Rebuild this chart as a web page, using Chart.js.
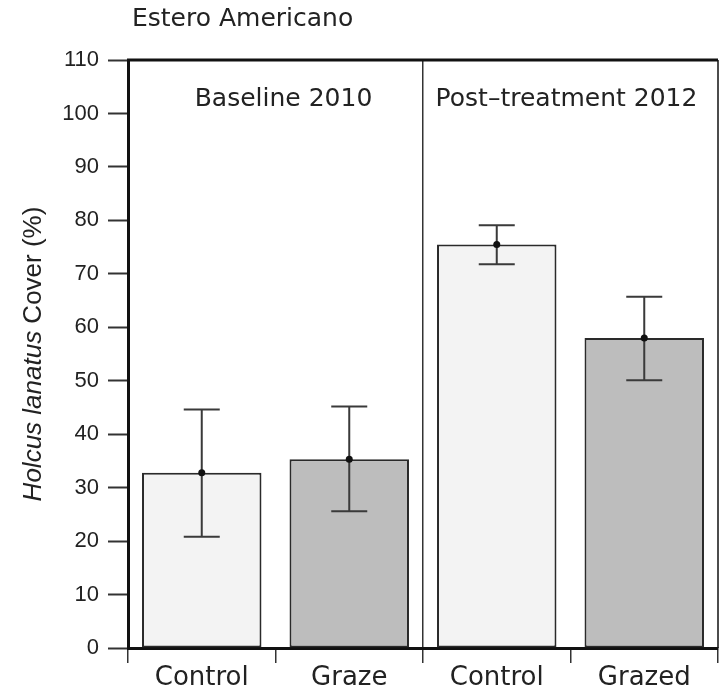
<!DOCTYPE html>
<html>
<head>
<meta charset="utf-8">
<script src="https://cdn.jsdelivr.net/npm/chart.js@4"></script>
<style>
  html, body { margin: 0; padding: 0; background: #fff; }
  #wrap { width: 720px; height: 692px; position: relative; }
</style>
</head>
<body>
<div id="wrap"><canvas id="grafica"></canvas></div>
<script>
// Datos
const CATEGORIAS = ['Control', 'Graze', 'Control', 'Grazed'];
const MEDIAS     = [32.8, 35.3, 75.5, 58.0];
const ERR_ALTO   = [44.6, 45.2, 79.1, 65.7];
const ERR_BAJO   = [20.8, 25.6, 71.8, 50.1];
const GRUPOS     = ['Baseline 2010', 'Post\u2013treatment 2012'];
const TICKS_Y    = [0, 10, 20, 30, 40, 50, 60, 70, 80, 90, 100, 110];

const COLORES = ['#f3f3f3', '#bdbdbd', '#f3f3f3', '#bdbdbd'];
const TINTA   = '#222';

// Barras de error, marco y rótulos de grupo
const extras = {
  id: 'extras',
  afterDatasetsDraw(chart) {
    const { ctx, chartArea: a, scales: { x, y } } = chart;
    ctx.save();
    // marco superior y derecho
    ctx.strokeStyle = '#111';
    ctx.lineWidth = 3;
    ctx.beginPath();
    ctx.moveTo(a.left - 1, a.top);
    ctx.lineTo(a.right, a.top);
    ctx.stroke();
    ctx.lineWidth = 1.5;
    ctx.beginPath();
    ctx.moveTo(a.right, a.top);
    ctx.lineTo(a.right, a.bottom);
    ctx.stroke();

    // barras de error
    ctx.strokeStyle = '#3a3a3a';
    ctx.fillStyle = '#111';
    ctx.lineWidth = 2;
    MEDIAS.forEach((m, i) => {
      const cx = x.getPixelForValue(i);
      const yA = y.getPixelForValue(ERR_ALTO[i]);
      const yB = y.getPixelForValue(ERR_BAJO[i]);
      ctx.beginPath();
      ctx.moveTo(cx, yA); ctx.lineTo(cx, yB);
      ctx.moveTo(cx - 18, yA); ctx.lineTo(cx + 18, yA);
      ctx.moveTo(cx - 18, yB); ctx.lineTo(cx + 18, yB);
      ctx.stroke();
      ctx.beginPath();
      ctx.arc(cx, y.getPixelForValue(m), 3.5, 0, Math.PI * 2);
      ctx.fill();
    });

    // rótulos de grupo
    ctx.fillStyle = TINTA;
    ctx.font = '25px "DejaVu Sans"';
    ctx.textAlign = 'center';
    ctx.textBaseline = 'middle';
    const yG = y.getPixelForValue(102.6);
    ctx.fillText(GRUPOS[0], (x.getPixelForValue(0) + x.getPixelForValue(1)) / 2 + 8, yG);
    ctx.fillText(GRUPOS[1], (x.getPixelForValue(2) + x.getPixelForValue(3)) / 2 - 4, yG);
    ctx.restore();
  },
  afterDraw(chart) {
    const { ctx, chartArea: a } = chart;
    ctx.save();
    // título
    ctx.fillStyle = TINTA;
    ctx.font = '25px "DejaVu Sans"';
    ctx.textBaseline = 'middle';
    ctx.fillText('Estero Americano', 132, 19);

    // título del eje y, con cursiva
    ctx.translate(34, (a.top + a.bottom) / 2);
    ctx.rotate(-Math.PI / 2);
    const p1 = 'Holcus lanatus', p2 = ' Cover (%)';
    ctx.font = 'italic 26px "Liberation Sans"';
    const w1 = ctx.measureText(p1).width;
    ctx.font = '26px "Liberation Sans"';
    const w2 = ctx.measureText(p2).width;
    const x0 = -(w1 + w2) / 2;
    ctx.textBaseline = 'middle';
    ctx.font = 'italic 26px "Liberation Sans"';
    ctx.fillText(p1, x0, 0);
    ctx.font = '26px "Liberation Sans"';
    ctx.fillText(p2, x0 + w1, 0);
    ctx.restore();
  }
};

new Chart(document.getElementById('grafica'), {
  type: 'bar',
  data: {
    labels: CATEGORIAS,
    datasets: [{
      data: MEDIAS,
      backgroundColor: COLORES,
      borderColor: '#2a2a2a',
      borderWidth: 2,
      borderSkipped: false,
      categoryPercentage: 1,
      barPercentage: 0.81
    }]
  },
  options: {
    responsive: true,
    maintainAspectRatio: false,
    animation: false,
    layout: { padding: { top: 60, right: 2, left: 0, bottom: 0 } },
    plugins: { legend: { display: false }, tooltip: { enabled: false } },
    scales: {
      x: {
        afterFit: s => { s.height = 44; },
        border: { display: true, color: '#111', width: 3 },
        grid: {
          offset: true,
          drawOnChartArea: true,
          color: c => c.index === 2 ? '#333' : 'rgba(0,0,0,0)',
          lineWidth: 1.5,
          tickColor: '#333',
          tickLength: 15,
          tickWidth: 1.5
        },
        ticks: {
          color: TINTA,
          padding: 0,
          font: { family: 'DejaVu Sans', size: 26 }
        }
      },
      y: {
        min: 0,
        max: 110,
        afterFit: s => { s.width = 128; },
        afterBuildTicks: s => { s.ticks = TICKS_Y.map(v => ({ value: v })); },
        border: { display: true, color: '#111', width: 3 },
        grid: {
          drawOnChartArea: false,
          tickColor: '#333',
          tickLength: 20,
          tickWidth: 2
        },
        ticks: {
          color: TINTA,
          padding: 9,
          font: { family: 'Liberation Sans', size: 22 }
        }
      }
    }
  },
  plugins: [extras]
});
</script>
</body>
</html>
